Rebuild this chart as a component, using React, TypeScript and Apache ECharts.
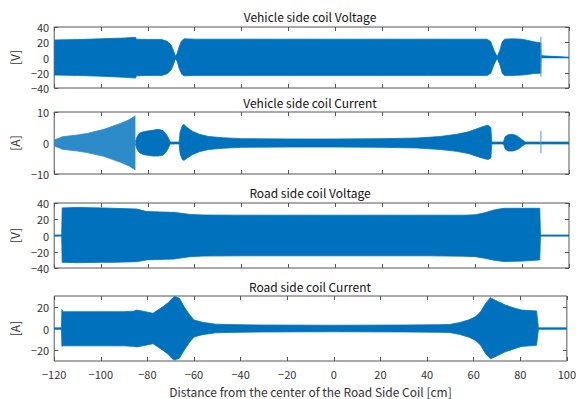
import React, { useEffect, useRef } from "react";
import * as echarts from "echarts";

const titles = [
  "Vehicle side coil Voltage",
  "Vehicle side coil Current",
  "Road side coil Voltage",
  "Road side coil Current",
];
const yUnits = ["[V]", "[A]", "[V]", "[A]"];
const xLabel = "Distance from the center of the Road Side Coil [cm]";
const xTicks = [-120, -100, -80, -60, -40, -20, 0, 20, 40, 60, 80, 100];
const yTicks1 = [-40, -20, 0, 20, 40];
const yTicks2 = [-10, 0, 10];
const yTicks3 = [-40, -20, 0, 20, 40];
const yTicks4 = [-20, 0, 20];
const yRange1 = [-40, 40];
const yRange2 = [-10, 10];
const yRange3 = [-40, 40];
const yRange4 = [-30, 30];

// Vehicle side coil Voltage envelope
const vvX = [-120, -110, -100, -90, -85.2, -85, -80, -74, -71.5, -70, -69, -68.2, -67.5, -66.5, -65.5, -64.5, -60, -40, -20, 0, 20, 40, 60, 65, 66.5, 68, 69.3, 70.5, 71.5, 72.5, 76, 80, 83, 85, 87.5, 87.9, 88.1, 100];
const vvUp = [23, 23.5, 24.5, 25.5, 26.5, 24, 23.5, 23.5, 21, 16, 9, 1.5, 5, 15, 22, 24.5, 24, 24, 24, 24, 24, 24, 24, 24, 21, 9, 1, 10, 21, 24, 24.5, 24, 22, 20.5, 19.5, 19.5, 2.3, 0.4];
const vvLo = [-23, -23.5, -24.5, -26, -27, -24, -23.5, -23.5, -21, -16, -9, -1.5, -5, -15, -22, -24, -23.5, -23.5, -23.5, -23.5, -23.5, -23.5, -23.5, -23.5, -21, -9, -1, -10, -21, -23.5, -23.5, -23, -22, -21, -20.5, -20.5, 1.7, -0.2];
const vvSpikeX = [88, 88];
const vvSpikeY = [27, -25];

// Vehicle side coil Current envelope: growing oscillation before -85 cm
const vcRampX = [-120, -118, -116.6, -110, -105.9, -98.8, -91.7, -88, -85.3];
const vcRampUp = [1.0, 1.5, 2.0, 2.6, 3.1, 4.4, 6.3, 7.5, 8.8];
const vcRampLo = [-1.0, -1.5, -2.0, -2.6, -3.1, -4.3, -6.2, -7.4, -8.7];
// Vehicle side coil Current envelope: rest
const vcX = [-85.3, -85.1, -84.6, -83.5, -81.5, -78, -75.5, -73.5, -72.3, -71.3, -70.6, -70.2, -66.6, -66.2, -65.2, -64.5, -63.5, -61, -58, -54, -48, -40, -20, 0, 20, 35, 45, 52, 57, 61, 64, 65.5, 66.6, 67, 72, 72.7, 74, 76, 78, 79.5, 80.8, 81.5, 100];
const vcUp = [0.3, 0.3, 2.0, 3.2, 3.7, 4.1, 4.4, 4.0, 3.0, 1.8, 0.6, 0.3, 0.3, 3.5, 5.7, 6.0, 5.2, 3.8, 2.8, 2.1, 1.7, 1.4, 1.3, 1.3, 1.4, 1.6, 2.1, 2.8, 3.6, 4.7, 5.5, 5.7, 5.0, 0.3, 0.3, 2.0, 2.7, 2.8, 2.2, 1.3, 0.6, 0.3, 0.3];
const vcLo = [-0.3, -0.3, -2.0, -3.2, -3.8, -4.2, -4.2, -3.9, -3.0, -1.8, -0.6, -0.3, -0.3, -3.5, -5.4, -5.6, -5.0, -3.8, -2.8, -2.1, -1.7, -1.4, -1.3, -1.3, -1.4, -1.6, -2.1, -2.7, -3.4, -4.4, -5.1, -5.3, -4.8, -0.3, -0.3, -1.9, -2.6, -2.6, -2.1, -1.3, -0.6, -0.3, -0.3];
const vcSpikeX = [88, 88];
const vcSpikeY = [3.9, -3.3];

// Road side coil Voltage envelope
const rvX = [-120, -116.8, -116.6, -110, -100, -94.6, -84.8, -80.5, -75, -69, -62, -56.4, -40, -20, 0, 20, 40, 55, 60, 64, 68, 72.2, 80, 87.5, 87.8, 100];
const rvUp = [0.6, 0.6, 34, 34.5, 34, 33.5, 32.6, 29.5, 29, 28.5, 26, 25.2, 25, 25, 25, 25, 25, 25, 25.5, 28, 31.5, 33.5, 33.5, 33.5, 0.6, 0.6];
const rvLo = [-0.6, -0.6, -33, -33.5, -33, -33, -32.2, -30, -29.5, -29, -26, -25.3, -25, -25, -25, -25, -25, -25.5, -26, -28, -30.5, -32, -31.5, -30, -0.6, -0.6];

// Road side coil Current envelope
const rcX = [-120, -116.9, -116.7, -116.2, -110, -100, -90, -86, -84.5, -82, -77.6, -73.4, -71, -69.3, -68.4, -66.3, -64.2, -62, -60, -56.4, -50.8, -45, -30, 0, 30, 45, 49.6, 53.8, 58, 60.9, 63, 65.1, 67.2, 69.3, 73.6, 77.8, 80.6, 87, 87.8, 100];
const rcUp = [0.6, 0.6, 17.5, 15.5, 15.5, 15.5, 15.5, 16, 17, 16, 14, 20, 24, 27.9, 29.5, 28, 20, 13, 7.8, 5.7, 4, 3.6, 3.2, 3.0, 3.2, 3.5, 3.7, 5.4, 8, 11, 15.5, 23, 28.5, 26, 21.7, 18.6, 17, 16.2, 0.6, 0.6];
const rcLo = [-0.6, -0.6, -16.5, -16, -16, -16, -16, -16.5, -17, -16, -14, -20, -24, -28, -29, -27.5, -20, -13, -7.8, -5.7, -4, -3.6, -3.2, -3.0, -3.2, -3.5, -3.7, -5.4, -8, -11, -15.5, -23, -28, -26, -21.5, -18.5, -16.5, -15.5, -0.6, -0.6];

const BLUE = "#0072BD";
const BLUE_LIGHT = "#2e8bc9";
const SPIKE = "#4d97d4";
const FONT = '"Noto Sans CJK JP", "Noto Sans", sans-serif';
const AXIS_COLOR = "#555555";
const LABEL_COLOR = "#333333";

type Seg = { x: number[]; up: number[]; lo: number[]; color: string };
const panels: { segs: Seg[]; range: number[]; ticks: number[]; spikeX: number[] | null; spikeY: number[] | null }[] = [
  { segs: [{ x: vvX, up: vvUp, lo: vvLo, color: BLUE }], range: yRange1, ticks: yTicks1, spikeX: vvSpikeX, spikeY: vvSpikeY },
  {
    segs: [
      { x: vcRampX, up: vcRampUp, lo: vcRampLo, color: BLUE_LIGHT },
      { x: vcX, up: vcUp, lo: vcLo, color: BLUE },
    ],
    range: yRange2,
    ticks: yTicks2,
    spikeX: vcSpikeX,
    spikeY: vcSpikeY,
  },
  { segs: [{ x: rvX, up: rvUp, lo: rvLo, color: BLUE }], range: yRange3, ticks: yTicks3, spikeX: null, spikeY: null },
  { segs: [{ x: rcX, up: rcUp, lo: rcLo, color: BLUE }], range: yRange4, ticks: yTicks4, spikeX: null, spikeY: null },
];

const gridTops = [27, 112, 203, 296];
const gridHeights = [61, 62, 65, 65];
const titleYs = [16, 102, 192, 286];

const fmt = (v: number) => String(v).replace("-", "\u2212");

export default function App() {
  const ref = useRef<HTMLDivElement>(null);
  useEffect(() => {
    if (!ref.current) return;
    const chart = echarts.init(ref.current, null, { renderer: "svg" });
    const grids: any[] = [];
    const xAxes: any[] = [];
    const yAxes: any[] = [];
    const series: any[] = [];
    const graphics: any[] = [];
    panels.forEach((p, i) => {
      grids.push({
        left: 50,
        right: 10,
        top: gridTops[i],
        height: gridHeights[i],
        show: true,
        borderColor: AXIS_COLOR,
        borderWidth: 1,
        backgroundColor: "#ffffff",
      });
      const last = i === panels.length - 1;
      const xCommon = {
        type: "value",
        gridIndex: i,
        min: xTicks[0],
        max: xTicks[xTicks.length - 1],
        interval: 20,
        splitLine: { show: false },
        axisLine: { show: false, onZero: false },
        axisTick: { show: true, inside: true, length: 4, lineStyle: { color: AXIS_COLOR } },
      };
      xAxes.push({
        ...xCommon,
        position: "bottom",
        axisLabel: {
          show: last,
          margin: 7,
          fontSize: 11,
          fontFamily: FONT,
          color: LABEL_COLOR,
          formatter: fmt,
        },
        name: last ? xLabel : "",
        nameLocation: "middle",
        nameGap: 24,
        nameTextStyle: { fontSize: 12, fontFamily: FONT, color: LABEL_COLOR },
      });
      xAxes.push({ ...xCommon, position: "top", axisLabel: { show: false } });
      const yCommon = {
        type: "value",
        gridIndex: i,
        min: p.range[0],
        max: p.range[1],
        splitLine: { show: false },
        axisLine: { show: false, onZero: false },
        axisTick: { show: true, inside: true, length: 4, customValues: p.ticks, lineStyle: { color: AXIS_COLOR } },
      };
      yAxes.push({
        ...yCommon,
        position: "left",
        axisLabel: {
          show: true,
          customValues: p.ticks,
          margin: 5,
          fontSize: 11,
          fontFamily: FONT,
          color: LABEL_COLOR,
          formatter: fmt,
        },
        name: yUnits[i],
        nameLocation: "middle",
        nameGap: 26,
        nameRotate: 90,
        nameTextStyle: { fontSize: 12, fontFamily: FONT, color: LABEL_COLOR },
      });
      yAxes.push({ ...yCommon, position: "right", axisLabel: { show: false } });

      const xi = i * 2;
      const yi = i * 2;
      // small overlap below zero for the upper area so the two halves join without a seam
      const overlap = -(p.range[1] - p.range[0]) * 0.012;
      p.segs.forEach((s) => {
        series.push({
          type: "line",
          xAxisIndex: xi,
          yAxisIndex: yi,
          symbol: "none",
          data: s.x.map((x, k) => [x, s.up[k]]),
          lineStyle: { color: s.color, width: 0.8 },
          itemStyle: { color: s.color },
          areaStyle: { color: s.color, opacity: 1, origin: overlap },
          z: 2,
        });
        series.push({
          type: "line",
          xAxisIndex: xi,
          yAxisIndex: yi,
          symbol: "none",
          data: s.x.map((x, k) => [x, s.lo[k]]),
          lineStyle: { color: s.color, width: 0.8 },
          itemStyle: { color: s.color },
          areaStyle: { color: s.color, opacity: 1, origin: 0 },
          z: 2,
        });
      });
      if (p.spikeX && p.spikeY) {
        series.push({
          type: "line",
          xAxisIndex: xi,
          yAxisIndex: yi,
          symbol: "none",
          data: p.spikeX.map((x, k) => [x, p.spikeY![k]]),
          lineStyle: { color: SPIKE, width: 1 },
          z: 3,
        });
      }
      graphics.push({
        type: "text",
        x: 310,
        y: titleYs[i],
        style: {
          text: titles[i],
          fill: "#111111",
          font: `12px ${FONT}`,
          align: "center",
          verticalAlign: "middle",
        },
      });
    });
    chart.setOption({
      animation: false,
      backgroundColor: "#ffffff",
      grid: grids,
      xAxis: xAxes,
      yAxis: yAxes,
      series,
      graphic: graphics,
    });
    return () => chart.dispose();
  }, []);
  return (
    <div
      ref={ref}
      style={{ position: "absolute", left: 0, top: 0, width: 579, height: 399 }}
    />
  );
}
